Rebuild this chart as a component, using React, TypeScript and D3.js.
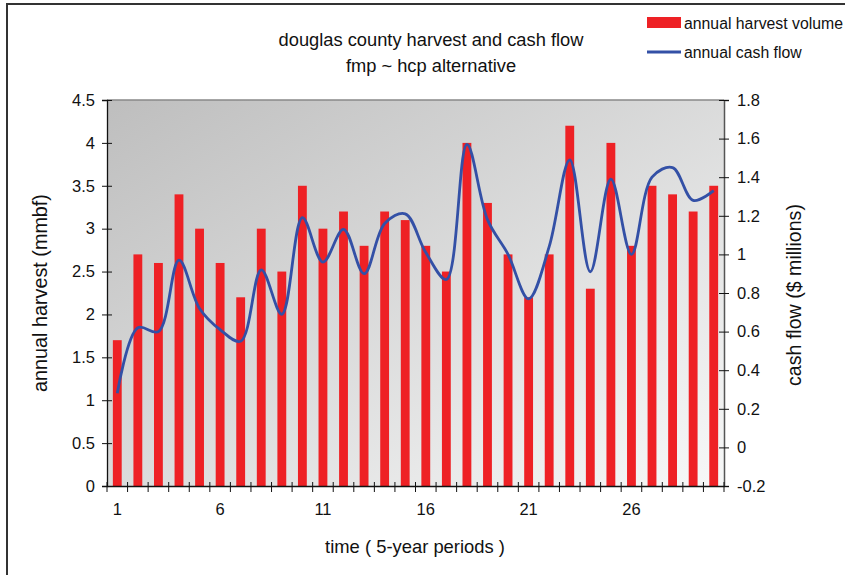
import { useRef, useEffect } from 'react';
import * as d3 from 'd3';

const periods = d3.range(1, 31).map(String);

const harvest = [
  1.7, 2.7, 2.6, 3.4, 3.0, 2.6, 2.2, 3.0, 2.5, 3.5,
  3.0, 3.2, 2.8, 3.2, 3.1, 2.8, 2.5, 4.0, 3.3, 2.7,
  2.2, 2.7, 4.2, 2.3, 4.0, 2.8, 3.5, 3.4, 3.2, 3.5,
];

const cashFlow = [
  0.28, 0.62, 0.6, 0.97, 0.72, 0.61, 0.55, 0.92, 0.69, 1.19,
  0.96, 1.13, 0.9, 1.16, 1.21, 1.01, 0.87, 1.57, 1.18, 1.0,
  0.77, 1.04, 1.49, 0.91, 1.39, 1.0, 1.4, 1.45, 1.28, 1.33,
];

const xLabels = ['1', '6', '11', '16', '21', '26'];
const leftTicks = [0, 0.5, 1, 1.5, 2, 2.5, 3, 3.5, 4, 4.5];
const rightTicks = [-0.2, 0, 0.2, 0.4, 0.6, 0.8, 1, 1.2, 1.4, 1.6, 1.8];

export default function App() {
  const svgRef = useRef<SVGSVGElement>(null);

  useEffect(() => {
    if (!svgRef.current) return;
    const svg = d3.select(svgRef.current);
    svg.selectAll('*').remove();

    const width = 845;
    const height = 575;
    const left = 107;
    const right = 724;
    const top = 100;
    const bottom = 486;
    const font = 'Arial, "Liberation Sans", sans-serif';
    const red = '#ee2125';
    const blue = '#3350a6';

    const x = d3.scaleBand<string>().domain(periods).range([left, right]).padding(0);
    const yL = d3.scaleLinear().domain([0, 4.5]).range([bottom, top]);
    const yR = d3.scaleLinear().domain([-0.2, 1.8]).range([bottom, top]);

    // background + outer frame
    svg.append('rect').attr('width', width).attr('height', height).attr('fill', '#fff');
    svg.append('rect')
      .attr('x', 7).attr('y', 4).attr('width', 900).attr('height', 700)
      .attr('fill', 'none').attr('stroke', '#333').attr('stroke-width', 2);

    const defs = svg.append('defs');
    const grad = defs.append('linearGradient')
      .attr('id', 'plotBg').attr('x1', 0).attr('y1', 0).attr('x2', 1).attr('y2', 1);
    grad.append('stop').attr('offset', 0).attr('stop-color', '#bebebe');
    grad.append('stop').attr('offset', 1).attr('stop-color', '#f7f8f8');

    svg.append('rect')
      .attr('x', left).attr('y', top)
      .attr('width', right - left).attr('height', bottom - top)
      .attr('fill', 'url(#plotBg)');
    svg.append('line')
      .attr('x1', left).attr('x2', right).attr('y1', top).attr('y2', top)
      .attr('stroke', '#888').attr('stroke-width', 1.5);

    // bars
    const barW = x.bandwidth() * 0.43;
    svg.append('g')
      .selectAll('rect')
      .data(harvest)
      .join('rect')
      .attr('x', (_, i) => x(periods[i])! + (x.bandwidth() - barW) / 2)
      .attr('y', (d) => yL(d))
      .attr('width', barW)
      .attr('height', (d) => bottom - yL(d))
      .attr('fill', red);

    // cash flow line
    const line = d3.line<number>()
      .x((_, i) => x(periods[i])! + x.bandwidth() / 2)
      .y((d) => yR(d))
      .curve(d3.curveCatmullRom.alpha(0.5));
    svg.append('path')
      .datum(cashFlow)
      .attr('d', line)
      .attr('fill', 'none')
      .attr('stroke', blue)
      .attr('stroke-width', 2.8);

    // left axis
    const gL = svg.append('g')
      .attr('transform', `translate(${left},0)`)
      .call(d3.axisLeft(yL).tickValues(leftTicks).tickSize(5).tickPadding(7)
        .tickFormat((d) => String(d)));
    gL.selectAll('.tick line').attr('x1', 5);
    gL.select('.domain').attr('stroke', '#111').attr('stroke-width', 1.3);

    // right axis
    const gR = svg.append('g')
      .attr('transform', `translate(${right},0)`)
      .call(d3.axisRight(yR).tickValues(rightTicks).tickSize(5).tickPadding(8)
        .tickFormat((d) => String(d)));
    gR.selectAll('.tick line').attr('x1', -5);
    gR.select('.domain').attr('stroke', '#555').attr('stroke-width', 1.5);

    // bottom axis: ticks at band edges, labels at selected periods
    const edges = d3.range(periods.length + 1).map((i) => left + i * x.step());
    svg.append('g')
      .selectAll('line')
      .data(edges)
      .join('line')
      .attr('x1', (d) => d).attr('x2', (d) => d)
      .attr('y1', bottom - 4).attr('y2', bottom + 6)
      .attr('stroke', '#111');
    const gB = svg.append('g')
      .attr('transform', `translate(0,${bottom})`)
      .call(d3.axisBottom(x).tickValues(xLabels).tickSize(0).tickPadding(17));
    gB.select('.domain').attr('stroke', '#111').attr('stroke-width', 1.3);

    svg.selectAll('.tick text')
      .attr('font-family', font).attr('font-size', 16.5).attr('fill', '#111');
    svg.selectAll('.tick line').attr('stroke', '#111');

    // titles
    const title = svg.append('text')
      .attr('x', 431).attr('text-anchor', 'middle')
      .attr('font-family', font).attr('font-size', 18.3).attr('fill', '#111');
    title.append('tspan').attr('x', 431).attr('y', 46).text('douglas county harvest and cash flow');
    title.append('tspan').attr('x', 431).attr('y', 72).text('fmp ~ hcp alternative');

    svg.append('text')
      .attr('transform', `translate(47,${(top + bottom) / 2}) rotate(-90)`)
      .attr('text-anchor', 'middle')
      .attr('font-family', font).attr('font-size', 19.8).attr('fill', '#111')
      .text('annual harvest (mmbf)');
    svg.append('text')
      .attr('transform', `translate(801,${(top + bottom) / 2 + 2}) rotate(-90)`)
      .attr('text-anchor', 'middle')
      .attr('font-family', font).attr('font-size', 19.6).attr('fill', '#111')
      .text('cash flow ($ millions)');
    svg.append('text')
      .attr('x', 415).attr('y', 553).attr('text-anchor', 'middle')
      .attr('font-family', font).attr('font-size', 18.4).attr('fill', '#111')
      .text('time ( 5-year periods )');

    // legend
    const lg = svg.append('g').attr('font-family', font).attr('font-size', 15.8).attr('fill', '#111');
    lg.append('rect').attr('x', 647).attr('y', 17).attr('width', 34).attr('height', 11).attr('fill', red);
    lg.append('text').attr('x', 684).attr('y', 29).text('annual harvest volume');
    lg.append('line').attr('x1', 647).attr('x2', 681).attr('y1', 52).attr('y2', 52)
      .attr('stroke', blue).attr('stroke-width', 2.8);
    lg.append('text').attr('x', 684).attr('y', 58).text('annual cash flow');
  }, []);

  return (
    <svg
      ref={svgRef}
      width={845}
      height={575}
      style={{ position: 'absolute', left: 0, top: 0, display: 'block' }}
      role="img"
      aria-label="douglas county harvest and cash flow"
    />
  );
}
